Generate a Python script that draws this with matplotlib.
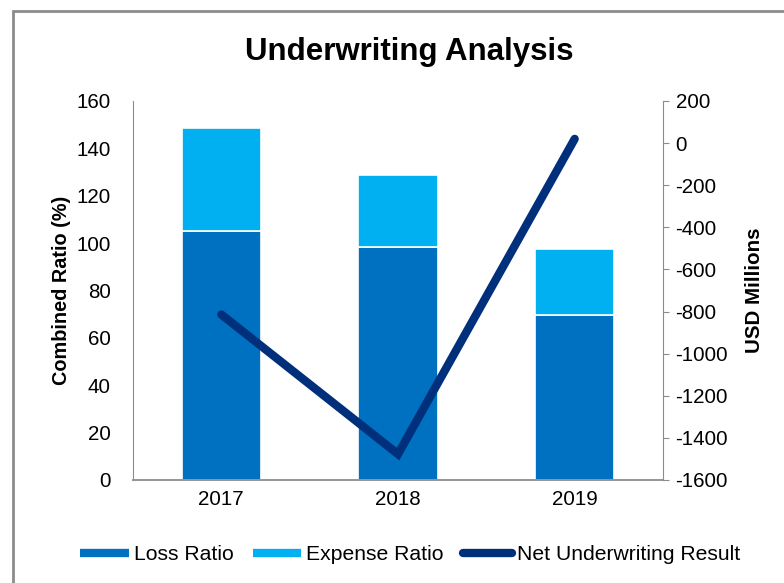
import matplotlib.pyplot as plt
from matplotlib.lines import Line2D
from matplotlib.patches import Rectangle

plt.rcParams['font.family'] = ['Liberation Sans', 'DejaVu Sans']
plt.rcParams['axes.unicode_minus'] = False

# data
years = ['2017', '2018', '2019']
loss_ratio = [105.3, 98.5, 69.5]
expense_ratio = [43.3, 30.3, 28.2]
net_result = [-814, -1477, 20]

loss_col = '#0070C0'
exp_col = '#00B0F0'
net_col = '#002F7C'
grey = '#8C8C8C'

fig = plt.figure(figsize=(7.84, 5.83), dpi=100)
ax = fig.add_axes([0.1696, 0.1767, 0.6761, 0.6501])

x = range(len(years))
ax.bar(x, loss_ratio, width=0.45, color=loss_col, edgecolor='white', linewidth=1.2, zorder=2)
ax.bar(x, expense_ratio, width=0.45, bottom=loss_ratio, color=exp_col,
       edgecolor='white', linewidth=1.2, zorder=2)
ax.set_xlim(-0.5, 2.5)
ax.set_ylim(0, 160)
ax.set_yticks(range(0, 161, 20))
ax.set_xticks(list(x))
ax.set_xticklabels(years)
ax.tick_params(axis='both', length=0, labelsize=14.8, pad=7)
ax.tick_params(axis='y', pad=16)
for s in ['top', 'right']:
    ax.spines[s].set_visible(False)
ax.spines['left'].set_color(grey)
ax.spines['bottom'].set_color(grey)
ax.spines['bottom'].set_linewidth(1.3)
ax.set_ylabel('Combined Ratio (%)', fontsize=14.3, fontweight='bold', labelpad=4)

ax2 = ax.twinx()
ax2.plot(list(x), net_result, color=net_col, linewidth=6, solid_capstyle='round',
         solid_joinstyle='miter', zorder=3)
ax2.set_ylim(-1600, 200)
ax2.set_yticks(range(-1600, 201, 200))
ax2.tick_params(axis='y', length=4, color=grey, labelsize=14.8, pad=5)
for s in ['top', 'left', 'bottom']:
    ax2.spines[s].set_visible(False)
ax2.spines['right'].set_color(grey)
ax2.set_ylabel('USD Millions', fontsize=14.8, fontweight='bold', labelpad=12)

fig.text(0.522, 0.91, 'Underwriting Analysis', ha='center', va='center',
         fontsize=22.5, fontweight='bold')

handles = [Line2D([], [], color=loss_col, lw=6, solid_capstyle='butt'),
           Line2D([], [], color=exp_col, lw=6, solid_capstyle='butt'),
           Line2D([], [], color=net_col, lw=6, solid_capstyle='round')]
fig.legend(handles, ['Loss Ratio', 'Expense Ratio', 'Net Underwriting Result'],
           loc='center', bbox_to_anchor=(0.523, 0.049), ncol=3, frameon=False,
           fontsize=15.2, handlelength=2.3, handletextpad=0.25, columnspacing=0.9)

fig.patches.append(Rectangle((13 / 784, -0.1), 1.2, 1 - 11 / 583 + 0.1, transform=fig.transFigure,
                             fill=False, edgecolor=grey, linewidth=2))

fig.savefig('out.png', dpi=100)
